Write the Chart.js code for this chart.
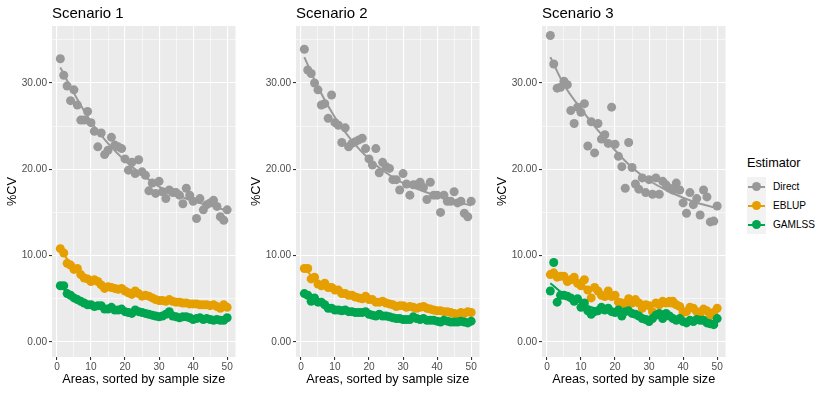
<!DOCTYPE html>
<html lang="en">
<head>
    <meta charset="UTF-8">
    <title>%CV by scenario</title>
    <style>
        body {
            margin: 0;
            background: #fff;
            font-family: "Liberation Sans", Arial, sans-serif;
        }
        #wrap {
            position: relative;
            width: 830px;
            height: 393px;
        }
        canvas {
            position: absolute;
            top: 0;
        }
        .title {
            position: absolute;
            top: 5px;
            font-size: 15px;
            line-height: 15px;
            color: #000;
        }
        .legend {
            position: absolute;
            left: 747px;
            top: 156px;
        }
        .legend-title {
            font-size: 12.7px;
            line-height: 15px;
            margin-bottom: 6px;
        }
        .key-row {
            display: flex;
            align-items: center;
            height: 19px;
        }
        .key {
            position: relative;
            width: 19px;
            height: 19px;
            background: #f2f2f2;
        }
        .key .ln {
            position: absolute;
            left: 1px;
            right: 1px;
            top: 8.5px;
            height: 2px;
        }
        .key .pt {
            position: absolute;
            left: 5px;
            top: 5px;
            width: 9px;
            height: 9px;
            border-radius: 50%;
        }
        .key-label {
            font-size: 10.1px;
            color: #000;
            margin-left: 7px;
        }
    </style>
</head>
<body>
<div id="wrap">
    <canvas id="c1" width="240" height="393" style="left:0px"></canvas>
    <canvas id="c2" width="240" height="393" style="left:244px"></canvas>
    <canvas id="c3" width="240" height="393" style="left:490px"></canvas>
    <div class="title" style="left:52px">Scenario 1</div>
    <div class="title" style="left:296px">Scenario 2</div>
    <div class="title" style="left:542px">Scenario 3</div>
    <div class="legend" id="legend">
        <div class="legend-title">Estimator</div>
    </div>
</div>

<script src="https://cdn.jsdelivr.net/npm/chart.js"></script>
<script>
    // x: areas sorted by sample size
    const areas = [1, 2, 3, 4, 5, 6, 7, 8, 9, 10, 11, 12, 13, 14, 15, 16, 17, 18, 19, 20,
        21, 22, 23, 24, 25, 26, 27, 28, 29, 30, 31, 32, 33, 34, 35, 36, 37, 38, 39, 40,
        41, 42, 43, 44, 45, 46, 47, 48, 49, 50];
    const smoothX = [1, 5, 10, 15, 20, 25, 30, 35, 40, 45, 50];

    const estimators = ['Direct', 'EBLUP', 'GAMLSS'];
    const colors = ['#999999', '#E69F00', '#00A550'];

    // Scenario 1
    const s1Direct = [32.8, 30.9, 29.65, 27.95, 29.2, 27.45, 25.7, 25.7, 26.7, 25.4,
        24.4, 22.6, 24.2, 21.7, 22.2, 23.7, 22.8, 22.6, 22.4, 21.2,
        19.9, 20.8, 19.5, 21.1, 19.7, 19.3, 17.5, 18.4, 17.2, 18.6,
        17.4, 16.6, 17.6, 17.3, 17.3, 17.0, 16.0, 17.8, 17.0, 16.3,
        14.3, 16.6, 15.3, 15.9, 16.1, 16.4, 15.7, 14.5, 14.1, 15.3];
    const s1Eblup = [10.8, 10.3, 9.1, 8.9, 8.4, 8.5, 7.8, 7.4, 7.3, 7.0,
        7.2, 7.0, 6.6, 6.2, 6.4, 6.3, 6.2, 6.1, 6.2, 5.9,
        5.7, 5.5, 5.9, 5.6, 5.3, 5.4, 5.3, 5.1, 4.9, 4.8,
        4.8, 4.7, 4.9, 4.7, 4.6, 4.6, 4.5, 4.5, 4.4, 4.4,
        4.4, 4.3, 4.3, 4.3, 4.2, 4.3, 4.1, 3.9, 4.3, 4.0];
    const s1Gamlss = [6.5, 6.5, 5.6, 5.4, 5.1, 4.9, 4.7, 4.5, 4.3, 4.3,
        4.1, 4.2, 4.2, 3.8, 3.8, 4.0, 3.7, 3.7, 3.8, 3.5,
        3.4, 3.3, 3.7, 3.5, 3.4, 3.3, 3.2, 3.1, 3.0, 2.9,
        3.0, 3.2, 3.5, 3.0, 2.9, 2.8, 2.9, 2.9, 2.8, 2.6,
        2.7, 2.8, 2.6, 2.7, 2.6, 2.5, 2.6, 2.5, 2.5, 2.8];
    const s1DirectFit = [31.8, 28.8, 25.5, 23.0, 21.0, 19.4, 18.0, 17.1, 16.3, 15.8, 15.2];
    const s1EblupFit = [10.6, 8.7, 7.3, 6.4, 5.8, 5.4, 4.9, 4.7, 4.4, 4.2, 4.0];
    const s1GamlssFit = [6.4, 5.2, 4.4, 3.9, 3.6, 3.4, 3.1, 3.0, 2.8, 2.7, 2.6];

    // Scenario 2
    const s2Direct = [33.9, 31.5, 31.1, 30.0, 29.2, 27.45, 27.6, 25.9, 28.6, 25.4,
        25.1, 23.1, 24.8, 22.6, 23.0, 23.2, 23.4, 23.6, 22.4, 21.2,
        20.5, 22.4, 19.6, 20.8, 20.3, 20.1, 18.8, 18.8, 17.6, 19.5,
        18.3, 17.0, 18.2, 18.2, 18.5, 17.9, 16.5, 18.5, 17.0, 17.0,
        15.0, 17.0, 16.3, 16.3, 17.4, 16.1, 16.3, 14.9, 14.5, 16.3];
    const s2Eblup = [8.5, 8.5, 7.3, 7.5, 6.7, 6.5, 6.8, 6.3, 6.3, 6.0,
        6.0, 5.6, 5.6, 5.4, 5.4, 5.2, 5.1, 5.0, 5.3, 4.9,
        4.9, 4.6, 4.6, 4.7, 4.5, 4.4, 4.3, 4.1, 4.2, 4.2,
        4.0, 4.1, 4.0, 3.9, 4.0, 4.1, 3.9, 3.8, 3.7, 3.6,
        3.6, 3.5, 3.5, 3.4, 3.3, 3.2, 3.4, 3.3, 3.5, 3.4];
    const s2Gamlss = [5.6, 5.4, 4.7, 5.1, 4.6, 4.6, 4.3, 3.9, 3.9, 3.7,
        3.7, 3.6, 3.7, 3.5, 3.5, 3.4, 3.4, 3.4, 3.5, 3.2,
        3.1, 3.0, 3.2, 3.0, 3.0, 2.9, 2.8, 2.7, 2.7, 2.6,
        2.6, 2.6, 2.9, 2.7, 2.6, 2.7, 2.5, 2.5, 2.5, 2.4,
        2.3, 2.5, 2.4, 2.3, 2.3, 2.3, 2.4, 2.3, 2.2, 2.4];
    const s2DirectFit = [33.0, 29.5, 26.0, 23.3, 21.2, 19.6, 18.4, 17.6, 16.9, 16.3, 15.8];
    const s2EblupFit = [8.5, 7.0, 6.1, 5.4, 5.0, 4.5, 4.2, 4.0, 3.7, 3.4, 3.3];
    const s2GamlssFit = [5.5, 4.7, 3.9, 3.5, 3.3, 3.0, 2.7, 2.6, 2.5, 2.3, 2.3];

    // Scenario 3
    const s3Direct = [35.5, 32.2, 29.4, 29.5, 30.2, 29.8, 26.8, 25.3, 27.2, 26.6,
        27.6, 22.7, 25.5, 21.9, 25.3, 23.5, 24.0, 23.0, 27.2, 22.9,
        21.5, 20.3, 17.8, 23.1, 20.2, 18.3, 17.7, 19.0, 17.3, 18.8,
        17.1, 19.0, 17.1, 18.6, 18.2, 17.8, 17.6, 18.4, 17.6, 16.1,
        14.9, 17.3, 15.9, 16.6, 14.7, 17.6, 16.8, 13.9, 14.0, 15.75];
    const s3Eblup = [7.8, 8.0, 7.5, 7.6, 7.6, 7.0, 7.2, 7.5, 6.8, 6.5,
        7.2, 6.0, 5.1, 6.3, 5.9, 5.4, 5.25, 5.9, 5.25, 5.4,
        4.6, 4.5, 4.3, 5.0, 4.5, 4.9, 4.5, 3.9, 4.3, 4.2,
        3.5, 4.5, 4.3, 4.7, 4.5, 4.7, 4.7, 4.3, 4.1, 3.4,
        3.5, 4.0, 3.9, 3.5, 3.3, 3.8, 3.6, 3.1, 3.4, 3.9];
    const s3Gamlss = [5.9, 9.2, 4.6, 5.4, 5.4, 5.3, 5.1, 4.7, 5.0, 4.0,
        4.5, 3.6, 3.2, 3.5, 3.6, 4.0, 3.7, 3.9, 3.5, 3.4,
        3.7, 3.0, 3.5, 3.6, 3.3, 3.2, 3.0, 2.7, 2.6, 2.35,
        2.7, 3.1, 3.3, 2.7, 3.3, 3.0, 2.7, 2.5, 2.7, 2.35,
        2.2, 2.5, 2.35, 2.6, 2.5, 2.5, 2.2, 2.1, 2.0, 2.7];
    const s3DirectFit = [33.0, 29.8, 27.0, 24.5, 22.2, 20.2, 18.7, 17.6, 16.7, 16.0, 15.5];
    const s3EblupFit = [7.8, 7.4, 6.6, 5.8, 5.1, 4.6, 4.3, 4.2, 3.9, 3.6, 3.5];
    const s3GamlssFit = [6.8, 5.5, 4.5, 3.8, 3.5, 3.2, 2.9, 2.8, 2.6, 2.5, 2.4];

    const yTicks = [0, 5, 10, 15, 20, 25, 30, 35];
    const xTicks = [0, 5, 10, 15, 20, 25, 30, 35, 40, 45, 50];

    const FONT = '"Liberation Sans", Arial, sans-serif';

    function pairs(xs, ys) {
        return ys.map((v, i) => ({ x: xs[i], y: v }));
    }

    function makePanel(id, series, fits) {
        const datasets = [];
        // smooth lines above the points, GAMLSS drawn last
        for (let k = 2; k >= 0; k--) {
            datasets.push({
                type: 'line',
                label: estimators[k] + ' fit',
                data: pairs(smoothX, fits[k]),
                borderColor: colors[k],
                borderWidth: 2,
                pointRadius: 0,
                cubicInterpolationMode: 'monotone',
                fill: false
            });
        }
        for (let k = 2; k >= 0; k--) {
            datasets.push({
                type: 'scatter',
                label: estimators[k],
                data: pairs(areas, series[k]),
                backgroundColor: colors[k],
                borderWidth: 0,
                pointRadius: 4.5,
                pointHoverRadius: 4.5
            });
        }

        const gridWidth = ctx => (ctx.tick && ctx.tick.value % 10 === 0) ? 1.1 : 0.55;
        const tickColor = ctx => (ctx.tick && ctx.tick.value % 10 === 0) ? '#333333' : 'rgba(0,0,0,0)';

        new Chart(document.getElementById(id), {
            data: { datasets: datasets },
            options: {
                responsive: false,
                animation: false,
                devicePixelRatio: 1,
                layout: { padding: { top: 26, right: 2, left: 0, bottom: 0 } },
                plugins: {
                    legend: { display: false },
                    tooltip: { enabled: false }
                },
                scales: {
                    x: {
                        type: 'linear',
                        min: -1.45,
                        max: 52.45,
                        afterBuildTicks: s => { s.ticks = xTicks.map(v => ({ value: v })); },
                        afterFit: s => { s.height = 36; },
                        border: { display: false },
                        grid: {
                            color: '#ffffff',
                            lineWidth: gridWidth,
                            tickColor: tickColor,
                            tickLength: 3,
                            tickWidth: 1.1
                        },
                        ticks: {
                            autoSkip: false,
                            maxRotation: 0,
                            padding: 1,
                            color: '#4D4D4D',
                            font: { family: FONT, size: 10.1 },
                            callback: v => (v % 10 === 0 ? String(v) : '')
                        },
                        title: {
                            display: true,
                            text: 'Areas, sorted by sample size',
                            color: '#000',
                            font: { family: FONT, size: 12.7, lineHeight: 1.2 },
                            padding: { top: 0, bottom: 6 }
                        }
                    },
                    y: {
                        type: 'linear',
                        min: -1.75,
                        max: 36.6,
                        afterBuildTicks: s => { s.ticks = yTicks.map(v => ({ value: v })); },
                        afterFit: s => { s.width = 52; },
                        border: { display: false },
                        grid: {
                            color: '#ffffff',
                            lineWidth: gridWidth,
                            tickColor: tickColor,
                            tickLength: 3,
                            tickWidth: 1.1
                        },
                        ticks: {
                            autoSkip: false,
                            padding: 2,
                            color: '#4D4D4D',
                            font: { family: FONT, size: 10.1 },
                            callback: v => (v % 10 === 0 ? v.toFixed(2) : '')
                        },
                        title: {
                            display: true,
                            text: '%CV',
                            color: '#000',
                            font: { family: FONT, size: 12.7, lineHeight: 1.2 },
                            padding: { top: 5, bottom: 0 }
                        }
                    }
                }
            },
            plugins: [{
                id: 'panelBg',
                beforeDraw: chart => {
                    const a = chart.chartArea;
                    const c = chart.ctx;
                    c.save();
                    c.fillStyle = '#EBEBEB';
                    c.fillRect(a.left, a.top, a.right - a.left, a.bottom - a.top);
                    c.restore();
                }
            }]
        });
    }

    makePanel('c1', [s1Direct, s1Eblup, s1Gamlss], [s1DirectFit, s1EblupFit, s1GamlssFit]);
    makePanel('c2', [s2Direct, s2Eblup, s2Gamlss], [s2DirectFit, s2EblupFit, s2GamlssFit]);
    makePanel('c3', [s3Direct, s3Eblup, s3Gamlss], [s3DirectFit, s3EblupFit, s3GamlssFit]);

    // legend
    const legend = document.getElementById('legend');
    estimators.forEach((name, k) => {
        const row = document.createElement('div');
        row.className = 'key-row';
        row.innerHTML = '<div class="key"><div class="ln" style="background:' + colors[k] + '"></div>' +
            '<div class="pt" style="background:' + colors[k] + '"></div></div>' +
            '<span class="key-label">' + name + '</span>';
        legend.appendChild(row);
    });
</script>
</body>
</html>
